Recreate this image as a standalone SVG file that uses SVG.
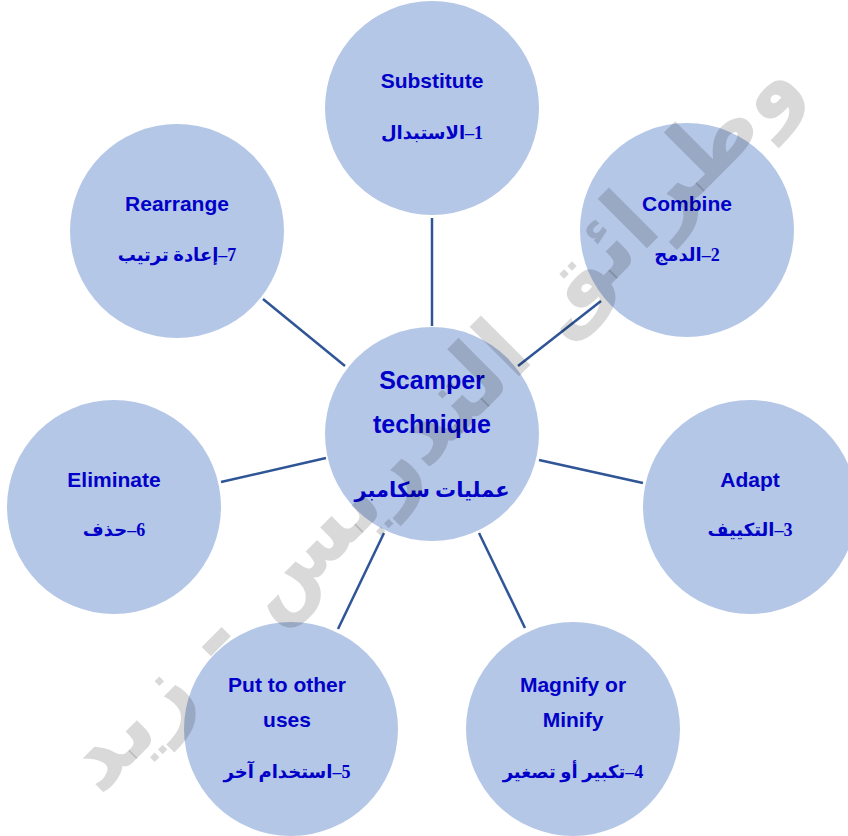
<svg xmlns="http://www.w3.org/2000/svg" width="848" height="836" viewBox="0 0 848 836">
  <style>
    .node { fill: #b4c7e7; }
    .link { stroke: #2f5597; stroke-width: 2.5; fill: none; }
    .en { font-family: "Liberation Sans", Arial, sans-serif; font-weight: bold; font-size: 21px; fill: #0000c8; text-anchor: middle; }
    .ar { font-family: "Liberation Serif", "DejaVu Sans", serif; font-weight: bold; font-size: 18px; fill: #0000c8; text-anchor: middle; direction: rtl; unicode-bidi: embed; }
    .en.hub { font-size: 25px; }
    .ar.hub { font-size: 21px; }
    .mark { font-family: "DejaVu Sans", sans-serif; font-weight: bold; font-size: 92px; fill: #000; fill-opacity: 0.15; text-anchor: middle; direction: rtl; unicode-bidi: embed; }
  </style>
  <rect width="848" height="836" fill="#ffffff"/>

  <!-- spokes from the hub to each step -->
  <g id="connectors">
    <line class="link" x1="432" y1="218" x2="432" y2="326"/>
    <line class="link" x1="518" y1="366" x2="601" y2="301"/>
    <line class="link" x1="539" y1="460" x2="643" y2="483"/>
    <line class="link" x1="479" y1="533" x2="525" y2="628"/>
    <line class="link" x1="384" y1="533" x2="338" y2="629"/>
    <line class="link" x1="221" y1="482" x2="326" y2="458"/>
    <line class="link" x1="263" y1="299" x2="345" y2="366"/>
  </g>

  <g id="hub">
    <circle class="node" cx="432" cy="434" r="107"/>
    <text class="en hub" x="432" y="389">Scamper</text>
    <text class="en hub" x="432" y="433">technique</text>
    <text class="ar hub" x="432" y="497">عمليات سكامبر</text>
  </g>

  <g id="substitute">
    <circle class="node" cx="432" cy="108" r="107"/>
    <text class="en" x="432" y="88">Substitute</text>
    <text class="ar" x="432" y="139">1–الاستبدال</text>
  </g>

  <g id="combine">
    <circle class="node" cx="687" cy="230" r="107"/>
    <text class="en" x="687" y="211">Combine</text>
    <text class="ar" x="687" y="261">2–الدمج</text>
  </g>

  <g id="adapt">
    <circle class="node" cx="750" cy="507" r="107"/>
    <text class="en" x="750" y="487">Adapt</text>
    <text class="ar" x="750" y="536">3–التكييف</text>
  </g>

  <g id="magnify">
    <circle class="node" cx="573" cy="729" r="107"/>
    <text class="en" x="573" y="692">Magnify or</text>
    <text class="en" x="573" y="727">Minify</text>
    <text class="ar" x="573" y="778">4–تكبير أو تصغير</text>
  </g>

  <g id="put-to-other-uses">
    <circle class="node" cx="291" cy="729" r="107"/>
    <text class="en" x="287" y="692">Put to other</text>
    <text class="en" x="287" y="727">uses</text>
    <text class="ar" x="287" y="778">5–استخدام آخر</text>
  </g>

  <g id="eliminate">
    <circle class="node" cx="114" cy="507" r="107"/>
    <text class="en" x="114" y="487">Eliminate</text>
    <text class="ar" x="114" y="536">6–حذف</text>
  </g>

  <g id="rearrange">
    <circle class="node" cx="177" cy="231" r="107"/>
    <text class="en" x="177" y="211">Rearrange</text>
    <text class="ar" x="177" y="261">7–إعادة ترتيب</text>
  </g>

  <!-- diagonal watermark -->
  <g id="watermark" transform="translate(430,420) rotate(-45)">
    <text class="mark" x="0" y="32">وطرائق التدريس - زيد</text>
  </g>
</svg>
